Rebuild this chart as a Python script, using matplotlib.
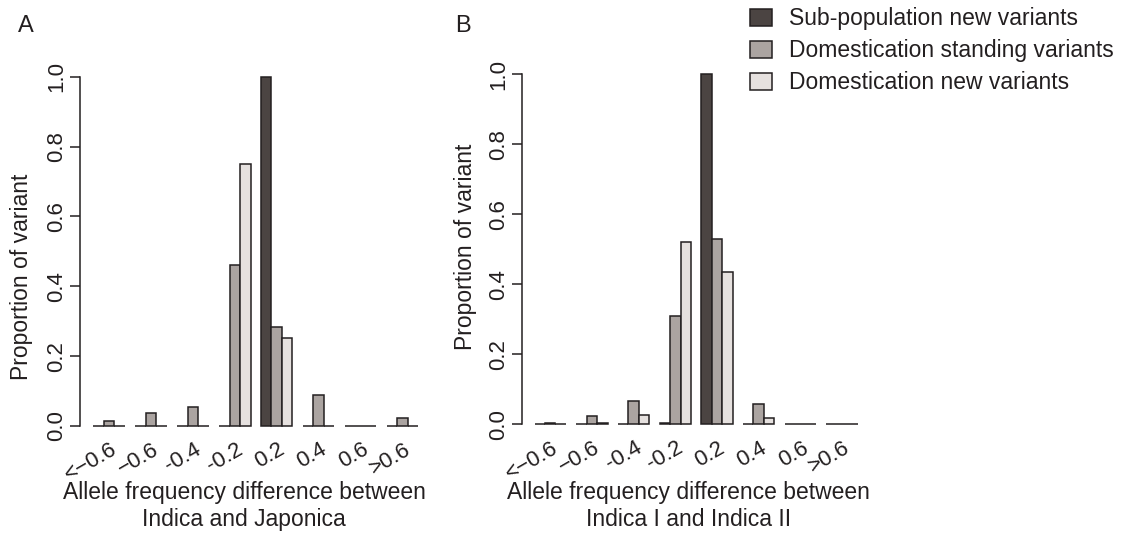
import matplotlib
matplotlib.use("Agg")
from matplotlib import pyplot as plt
from matplotlib.patches import Rectangle
import numpy as np

plt.rcParams['font.family'] = ['Liberation Sans', 'DejaVu Sans']

bins = ["<\u22120.6", "\u22120.6", "-0.4", "-0.2", "0.2", "0.4", "0.6", ">0.6"]
series_names = ["Sub-population new variants",
                "Domestication standing variants",
                "Domestication new variants"]
colors = ["#4b4442", "#aba4a1", "#e6e1df"]
edge = "#231f20"

# panel A: Indica vs Japonica
a_sub_new = [0, 0, 0, 0, 1.0, 0, 0, 0]
a_dom_standing = [0.014, 0.036, 0.054, 0.46, 0.283, 0.090, 0, 0.024]
a_dom_new = [0, 0, 0, 0.75, 0.253, 0, 0, 0]

# panel B: Indica I vs Indica II
b_sub_new = [0, 0, 0, 0.003, 1.0, 0, 0, 0]
b_dom_standing = [0.004, 0.022, 0.065, 0.31, 0.53, 0.059, 0, 0]
b_dom_new = [0, 0.003, 0.026, 0.52, 0.435, 0.019, 0, 0]

W, H = 1126, 535
fig = plt.figure(figsize=(W / 100, H / 100), dpi=100)


def panel(rect, series, xlabel, xl_pos, yl_pos):
    ax = fig.add_axes(rect)
    g = np.arange(len(bins))
    for j, vals in enumerate(series):
        ax.bar(1 + 4 * g + j, vals, width=1, align='edge',
               color=colors[j], edgecolor=edge, linewidth=1.1)
    ax.set_xlim(-0.24, 33.24)
    ax.set_ylim(-0.04, 1.04)
    for s in ['top', 'right', 'bottom']:
        ax.spines[s].set_visible(False)
    ax.spines['left'].set_bounds(0, 1)
    ax.spines['left'].set_linewidth(1.1)
    ax.spines['left'].set_color(edge)
    ax.set_yticks(np.arange(0, 1.01, 0.2))
    ax.set_yticklabels([f"{v:.1f}" for v in np.arange(0, 1.01, 0.2)],
                       rotation=90, va='center', ha='right')
    ax.tick_params(axis='y', length=7, width=1.1, pad=2, labelsize=16,
                   color=edge, labelcolor=edge)
    ax.set_xticks(1 + 4 * g + 1.5 + 0.6)
    ax.set_xticklabels(bins, rotation=30, ha='right', va='center',
                       rotation_mode='anchor')
    ax.tick_params(axis='x', length=0, pad=6, labelsize=16, labelcolor=edge)
    ax.set_xlabel(xlabel, fontsize=16.5, color=edge, va='top')
    ax.xaxis.set_label_coords(*xl_pos)
    ax.set_ylabel("Proportion of variant", fontsize=16.5, color=edge,
                  va='center')
    ax.yaxis.set_label_coords(*yl_pos)
    return ax


panel([80 / W, 1 - 439.9 / H, 351.5 / W, 377.1 / H],
      [a_sub_new, a_dom_standing, a_dom_new],
      "Allele frequency difference between\nIndica and Japonica",
      (0.467, -0.109), (-0.166, 0.433))
panel([521.7 / W, 1 - 438.2 / H, 348.9 / W, 378.1 / H],
      [b_sub_new, b_dom_standing, b_dom_new],
      "Allele frequency difference between\nIndica I and Indica II",
      (0.477, -0.113), (-0.1625, 0.505))

fig.text(18 / W, 1 - 32.4 / H, "A", fontsize=17, color=edge, va='baseline')
fig.text(455 / W, 1 - 32.4 / H, "B", fontsize=17, color=edge, va='baseline')

# legend drawn as boxes + text at the top right
for i, (name, c) in enumerate(zip(series_names, colors)):
    top = 9.3 + 31.8 * i
    fig.patches.append(Rectangle((750 / W, 1 - (top + 17) / H), 21.7 / W, 17 / H,
                                 transform=fig.transFigure, facecolor=c,
                                 edgecolor=edge, linewidth=1.1))
    fig.text(789 / W, 1 - (top + 16) / H, name, fontsize=16.5, color=edge,
             va='baseline')

fig.savefig("out.png", dpi=100)
